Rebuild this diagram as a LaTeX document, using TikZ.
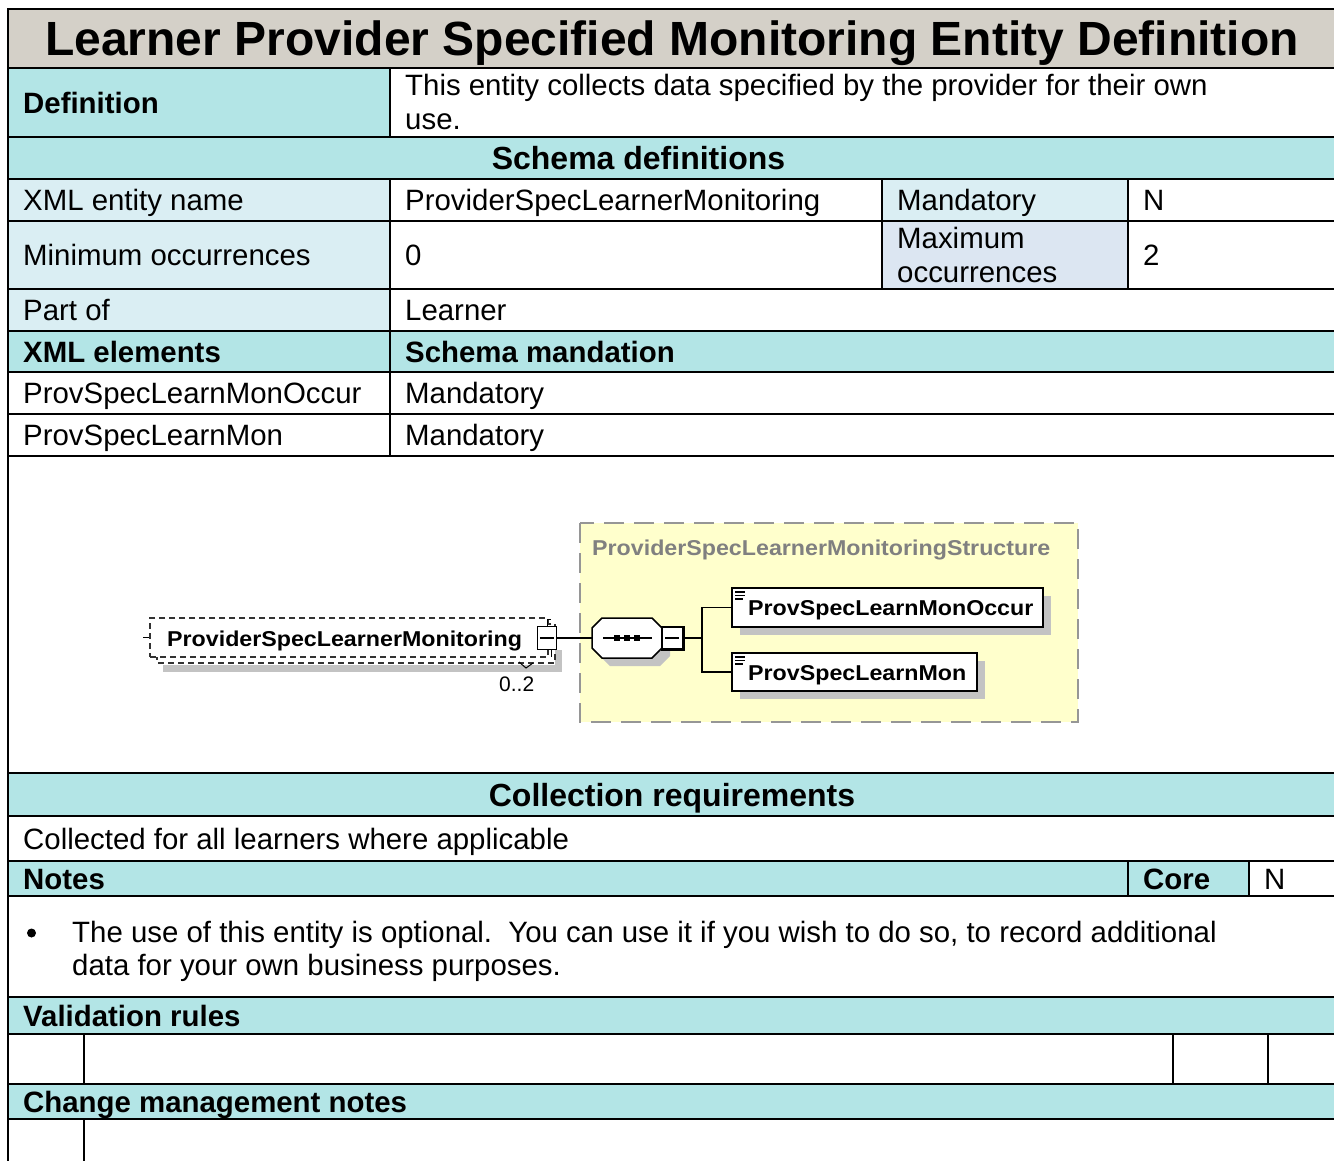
\documentclass[tikz,border=0pt]{standalone}
\usepackage{fontspec}
\setmainfont{Liberation Sans}
\usepackage{graphicx}
\definecolor{titlegray}{RGB}{212,208,200}
\definecolor{hdrcyan}{RGB}{179,229,230}
\definecolor{lightcell}{RGB}{218,238,243}
\definecolor{maxcell}{RGB}{220,230,242}
\definecolor{yfill}{RGB}{255,255,204}
\definecolor{dashgray}{RGB}{150,150,150}
\definecolor{shadowgray}{RGB}{195,195,195}
\definecolor{structgray}{RGB}{128,128,128}
\definecolor{dashdark}{RGB}{50,50,50}
\newcommand\myBody{\fontsize{29.4}{34}\selectfont}
\newcommand\myHead{\fontsize{32}{38}\selectfont}
\newcommand\myTitle{\fontsize{48}{56}\selectfont}
\newcommand\myDiag{\fontsize{21.5}{24}\selectfont\bfseries}
\newcommand\dg[1]{\scalebox{1.08}[1]{#1}}
\begin{document}
\begin{tikzpicture}[x=1pt,y=-1pt,
  rule/.style={line width=2pt,line cap=rect},
  tl/.style={anchor=base west,inner sep=0pt,font=\myBody},
  tb/.style={anchor=base west,inner sep=0pt,font=\myBody\bfseries},
  th/.style={anchor=base,inner sep=0pt,font=\myHead\bfseries},
  elbox/.style={draw=black,line width=2pt,fill=white,inner sep=0pt},
  dtxt/.style={anchor=base west,inner sep=0pt,font=\myDiag},
  dline/.style={line width=1.5pt},
]
\useasboundingbox (0,0) rectangle (1334,1160);
\clip (0,0) rectangle (1334,1160);
\fill[white] (0,0) rectangle (1334,1160);
% ---------- cell fills
\fill[titlegray] (8,9) rectangle (1340,68);
\fill[hdrcyan] (8,68) rectangle (390,137);
\fill[hdrcyan] (8,137) rectangle (1340,179);
\fill[lightcell] (8,179) rectangle (390,221);
\fill[lightcell] (882,179) rectangle (1128,221);
\fill[lightcell] (8,221) rectangle (390,289);
\fill[maxcell] (882,221) rectangle (1128,289);
\fill[lightcell] (8,289) rectangle (390,331);
\fill[hdrcyan] (8,331) rectangle (1340,372);
\fill[hdrcyan] (8,773) rectangle (1340,816);
\fill[hdrcyan] (8,861) rectangle (1249,896);
\fill[hdrcyan] (8,997) rectangle (1340,1034);
\fill[hdrcyan] (8,1084) rectangle (1340,1119);
% ---------- grid
\foreach \yy in {9,68,137,179,221,289,331,372,414,456,773,816,861,896,997,1034,1084,1119}
  \draw[rule] (8,\yy) -- (1340,\yy);
\draw[rule] (8,9) -- (8,1170);
\draw[rule] (390,68) -- (390,137);
\draw[rule] (390,179) -- (390,456);
\draw[rule] (882,179) -- (882,289);
\draw[rule] (1128,179) -- (1128,289);
\draw[rule] (1128,861) -- (1128,896);
\draw[rule] (1249,861) -- (1249,896);
\draw[rule] (84,1034) -- (84,1084);
\draw[rule] (1173,1034) -- (1173,1084);
\draw[rule] (1268,1034) -- (1268,1084);
\draw[rule] (84,1119) -- (84,1170);
% ---------- table texts
\node[anchor=base,inner sep=0pt,font=\myTitle\bfseries] (title) at (672,55.5) {Learner Provider Specified Monitoring Entity Definition};
\node[tb] (deflbl) at (23,113) {Definition};
\node[tl] (def1) at (405,95.5) {This entity collects data specified by the provider for their own};
\node[tl] (def2) at (405,129.5) {use.};
\node[th] (schemah) at (638.5,169.5) {Schema definitions};
\node[tl] (xmllbl) at (23,210.5) {XML entity name};
\node[tl] (xmlval) at (405,210.5) {ProviderSpecLearnerMonitoring};
\node[tl] (mandlbl) at (897,210.5) {Mandatory};
\node[tl] (mandval) at (1143,210.5) {N};
\node[tl] (minlbl) at (23,265) {Minimum occurrences};
\node[tl] (minval) at (405,265) {0};
\node[tl] (max1) at (897,248) {Maximum};
\node[tl] (max2) at (897,282) {occurrences};
\node[tl] (maxval) at (1143,265) {2};
\node[tl] (partlbl) at (23,320) {Part of};
\node[tl] (partval) at (405,320) {Learner};
\node[tb] (elemh) at (23,362) {XML elements};
\node[tb] (mandh) at (405,362) {Schema mandation};
\node[tl] (e1) at (23,403.5) {ProvSpecLearnMonOccur};
\node[tl] (e1m) at (405,403.5) {Mandatory};
\node[tl] (e2) at (23,445.5) {ProvSpecLearnMon};
\node[tl] (e2m) at (405,445.5) {Mandatory};
\node[th] (collh) at (672,806) {Collection requirements};
\node[tl] (collt) at (23,849) {Collected for all learners where applicable};
\node[tb] (notesh) at (23,889) {Notes};
\node[tb] (coreh) at (1143,889) {Core};
\node[tl] (corev) at (1264,889) {N};
\fill (31.5,933) circle (4.5pt);
\node[tl] (b1) at (72,942) {The use of this entity is optional.\ \ You can use it if you wish to do so, to record additional};
\node[tl] (b2) at (72,975.5) {data for your own business purposes.};
\node[tb] (valh) at (23,1026.5) {Validation rules};
\node[tb] (chgh) at (23,1112) {Change management notes};
% ---------- schema diagram
\fill[yfill] (580,523) rectangle (1078,722);
\draw[dashgray,line width=1.5pt,dash pattern=on 20pt off 10pt] (580,523) rectangle (1078,722);
\node[dtxt,text=structgray] (sttl) at (592,555) {\dg{ProviderSpecLearnerMonitoringStructure}};
% left element (multiple occurrence)
\fill[shadowgray] (163,665) rectangle (562,672);
\fill[shadowgray] (555,650) rectangle (562,672);
\draw[dashdark,line width=1.5pt,dash pattern=on 6pt off 4pt,fill=white] (157,624) rectangle (555,663);
\node[draw=dashdark,line width=1.5pt,dash pattern=on 6pt off 4pt,fill=white,inner sep=0pt,minimum width=398pt,minimum height=39pt] (lel) at (349,637.5) {};
\node[dtxt] (lelt) at (167,646.5) {\dg{ProviderSpecLearnerMonitoring}};
\coordinate (lstub) at (143,637.5);
\draw[dline] (lstub) -- (lel.west);
\node[draw,line width=1.5pt,fill=white,inner sep=0pt,minimum width=19pt,minimum height=23pt] (lsym) at (547,638) {};
\draw[dline] ([xshift=3pt]lsym.west) -- ([xshift=-3pt]lsym.east);
\draw[line width=1pt] (lsym.north) -- ++(0,-6) -- ++(4,0);
\draw[line width=1pt] ([xshift=4pt]lsym.south) -- ++(0,7);
\node[anchor=base west,inner sep=0pt,font=\fontsize{21}{24}\selectfont] (occ02) at (499,691) {0..2};
\draw[line width=1pt] (519,662) -- (526,668) -- (533,663);
% sequence compositor
\fill[shadowgray] (610,626) -- (660,626) -- (670,636) -- (670,656) -- (660,666) -- (610,666) -- (600,656) -- (600,636) -- cycle;
\draw[dline,fill=white] (602,618) -- (652,618) -- (662,628) -- (662,648) -- (652,658) -- (602,658) -- (592,648) -- (592,628) -- cycle;
\coordinate (seqw) at (592,638);
\draw[dline] (603,638) -- (652,638);
\fill (614,635) rectangle (620,641);
\fill (624,635) rectangle (630,641);
\fill (634,635) rectangle (640,641);
\draw[dline] (lsym.east) -- (seqw);
\node[draw,line width=1.5pt,fill=white,inner sep=0pt,minimum width=21pt,minimum height=22pt] (seqm) at (672.5,638) {};
\draw[line width=3pt] (seqm.north east) -- (seqm.south east) -- (seqm.south west);
\draw[dline] ([xshift=4pt]seqm.west) -- ([xshift=-5pt]seqm.east);
% child elements
\fill[shadowgray] (740,596) rectangle (1051,635);
\node[elbox,minimum width=311pt,minimum height=39pt] (occ) at (887.5,607.5) {};
\node[dtxt] (occt) at (748,615) {\dg{ProvSpecLearnMonOccur}};
\fill[shadowgray] (740,661) rectangle (985,699);
\node[elbox,minimum width=245pt,minimum height=38pt] (mon) at (854.5,672) {};
\node[dtxt] (mont) at (748,680) {\dg{ProvSpecLearnMon}};
\foreach \yy in {0,65}{
  \draw[line width=1.2pt] (735,592+\yy) -- (745,592+\yy);
  \draw[line width=1.2pt] (735,595.5+\yy) -- (745,595.5+\yy);
  \draw[line width=1.2pt] (735,599+\yy) -- (743,599+\yy);
}
\coordinate (br) at (702,638);
\draw[dline] (seqm.east) -- (br);
\draw[dline] (occ.west) -| (br) |- (mon.west);
\end{tikzpicture}
\end{document}
